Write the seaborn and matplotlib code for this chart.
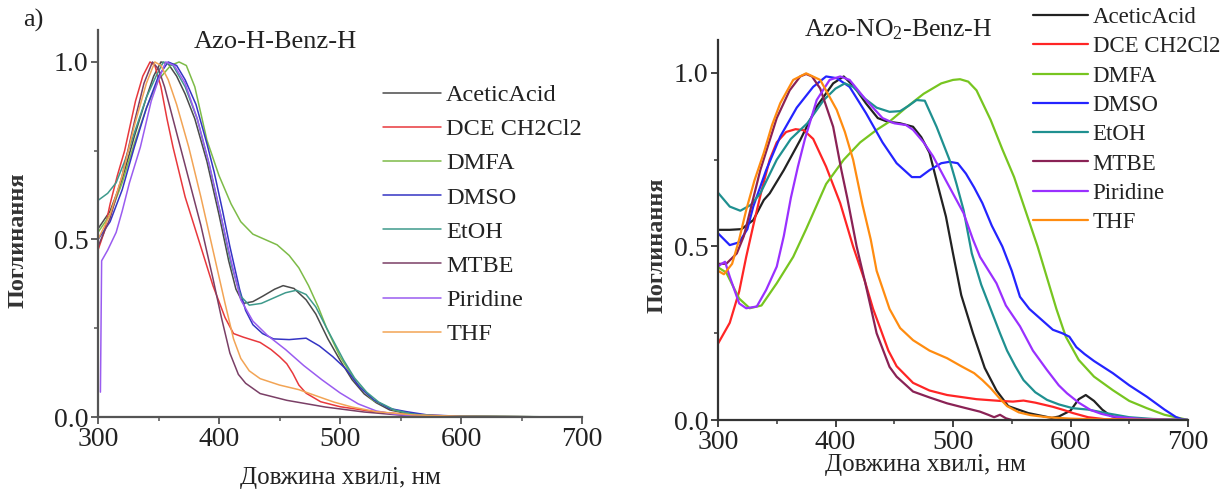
import numpy as np
import pandas as pd
import matplotlib
matplotlib.use("Agg")
import matplotlib.pyplot as plt
import seaborn as sns
from matplotlib.ticker import MultipleLocator

# ---------------- data ----------------
SOLVENTS = ["AceticAcid", "DCE CH2Cl2", "DMFA", "DMSO", "EtOH", "MTBE", "Piridine", "THF"]

# Left panel: Azo-H-Benz-H
L_ACETIC_X = [300, 310, 320, 330, 340, 346, 352, 358, 365, 372, 380, 390, 400, 408, 414, 420, 428, 436, 446, 453, 462, 472, 480, 490, 500, 510, 520, 530, 541, 555, 570, 600, 688]
L_ACETIC_Y = [0.53, 0.58, 0.67, 0.79, 0.90, 0.96, 1.0, 0.995, 0.96, 0.91, 0.84, 0.72, 0.57, 0.44, 0.36, 0.32, 0.325, 0.34, 0.36, 0.37, 0.362, 0.33, 0.29, 0.22, 0.16, 0.105, 0.065, 0.04, 0.02, 0.01, 0.004, 0.001, 0.0]
L_DCE_X = [300, 305, 310, 316, 322, 331, 337, 343, 347, 352, 357, 362, 372, 384, 395, 405, 412, 420, 434, 443, 450, 456, 461, 466, 472, 484, 500, 528, 560, 600, 688]
L_DCE_Y = [0.47, 0.52, 0.60, 0.68, 0.75, 0.89, 0.96, 1.0, 0.99, 0.93, 0.84, 0.76, 0.62, 0.49, 0.37, 0.28, 0.235, 0.225, 0.21, 0.19, 0.17, 0.15, 0.123, 0.09, 0.067, 0.043, 0.029, 0.015, 0.006, 0.002, 0.0]
L_DMFA_X = [300, 310, 320, 330, 340, 350, 360, 367, 373, 380, 390, 400, 410, 418, 428, 438, 448, 458, 466, 474, 482, 489, 500, 514, 527, 544, 560, 580, 688]
L_DMFA_Y = [0.52, 0.57, 0.66, 0.77, 0.87, 0.95, 0.99, 1.0, 0.99, 0.93, 0.78, 0.68, 0.60, 0.55, 0.515, 0.50, 0.485, 0.455, 0.42, 0.37, 0.31, 0.25, 0.17, 0.095, 0.048, 0.02, 0.008, 0.003, 0.0]
L_DMSO_X = [300, 310, 320, 330, 340, 350, 358, 365, 372, 381, 390, 396, 403, 409, 417, 422, 428, 436, 445, 458, 472, 483, 494, 505, 516, 528, 541, 555, 572, 600, 688]
L_DMSO_Y = [0.50, 0.55, 0.64, 0.76, 0.87, 0.96, 1.0, 0.99, 0.95, 0.88, 0.77, 0.69, 0.58, 0.48, 0.36, 0.30, 0.26, 0.235, 0.22, 0.218, 0.222, 0.20, 0.17, 0.135, 0.085, 0.048, 0.024, 0.015, 0.006, 0.002, 0.0]
L_ETOH_X = [300, 308, 315, 322, 330, 340, 348, 354, 362, 372, 382, 392, 402, 410, 418, 425, 435, 445, 455, 464, 472, 480, 489, 503, 512, 522, 532, 545, 560, 580, 688]
L_ETOH_Y = [0.61, 0.63, 0.66, 0.72, 0.80, 0.90, 0.96, 1.0, 0.99, 0.93, 0.84, 0.71, 0.56, 0.43, 0.34, 0.315, 0.32, 0.335, 0.35, 0.357, 0.345, 0.31, 0.25, 0.16, 0.11, 0.07, 0.042, 0.02, 0.008, 0.003, 0.0]
L_MTBE_X = [300, 310, 320, 330, 338, 345, 350, 355, 365, 375, 385, 395, 402, 409, 416, 422, 434, 456, 488, 520, 551, 600, 688]
L_MTBE_Y = [0.48, 0.56, 0.68, 0.83, 0.94, 1.0, 0.98, 0.93, 0.80, 0.67, 0.54, 0.39, 0.28, 0.18, 0.12, 0.095, 0.066, 0.047, 0.028, 0.014, 0.005, 0.001, 0.0]
L_PIRIDINE_X = [302, 303, 308, 315, 320, 326, 335, 344, 350, 356, 363, 372, 382, 392, 402, 410, 418, 428, 440, 455, 470, 485, 500, 515, 530, 545, 560, 600, 688]
L_PIRIDINE_Y = [0.07, 0.44, 0.47, 0.52, 0.58, 0.66, 0.76, 0.89, 0.95, 1.0, 0.99, 0.94, 0.84, 0.71, 0.56, 0.44, 0.33, 0.27, 0.23, 0.19, 0.145, 0.105, 0.068, 0.037, 0.017, 0.008, 0.003, 0.001, 0.0]
L_THF_X = [300, 310, 320, 330, 340, 347, 352, 358, 365, 375, 385, 395, 405, 412, 418, 425, 434, 450, 466, 480, 495, 510, 530, 560, 600, 688]
L_THF_Y = [0.50, 0.57, 0.68, 0.82, 0.94, 1.0, 0.99, 0.95, 0.88, 0.76, 0.62, 0.47, 0.32, 0.22, 0.165, 0.13, 0.108, 0.09, 0.077, 0.06, 0.042, 0.028, 0.015, 0.006, 0.002, 0.0]

# Right panel: Azo-NO2-Benz-H
R_ACETIC_X = [300, 310, 320, 330, 339, 344, 356, 370, 384, 398, 407, 416, 426, 436, 444, 455, 466, 473, 480, 486, 494, 500, 507, 517, 527, 537, 547, 564, 584, 590, 600, 607, 613, 620, 627, 634, 644, 660, 700]
R_ACETIC_Y = [0.548, 0.548, 0.550, 0.576, 0.634, 0.653, 0.72, 0.807, 0.903, 0.97, 0.99, 0.96, 0.912, 0.87, 0.86, 0.855, 0.845, 0.815, 0.77, 0.69, 0.586, 0.48, 0.36, 0.25, 0.15, 0.085, 0.04, 0.02, 0.006, 0.01, 0.027, 0.06, 0.072, 0.055, 0.03, 0.012, 0.003, 0.0, 0.0]
R_DCE_X = [300, 310, 318, 324, 330, 337, 344, 350, 358, 366, 373, 381, 392, 404, 415, 425, 432, 438, 445, 452, 466, 480, 495, 520, 540, 551, 560, 570, 585, 595, 602, 615, 630, 700]
R_DCE_Y = [0.22, 0.28, 0.37, 0.47, 0.56, 0.66, 0.75, 0.80, 0.83, 0.838, 0.835, 0.81, 0.73, 0.625, 0.50, 0.40, 0.32, 0.265, 0.20, 0.155, 0.107, 0.085, 0.072, 0.06, 0.055, 0.053, 0.056, 0.05, 0.038, 0.028, 0.02, 0.008, 0.002, 0.0]
R_DMFA_X = [300, 307, 318, 327, 337, 350, 364, 375, 392, 407, 421, 435, 446, 460, 475, 490, 500, 506, 513, 520, 532, 542, 552, 562, 572, 580, 588, 596, 607, 620, 636, 650, 665, 680, 695, 700]
R_DMFA_Y = [0.44, 0.425, 0.35, 0.322, 0.33, 0.394, 0.47, 0.55, 0.68, 0.75, 0.80, 0.836, 0.86, 0.90, 0.94, 0.97, 0.98, 0.982, 0.975, 0.95, 0.865, 0.78, 0.70, 0.60, 0.50, 0.41, 0.32, 0.24, 0.173, 0.125, 0.086, 0.055, 0.034, 0.015, 0.004, 0.0]
R_DMSO_X = [300, 310, 318, 325, 330, 341, 353, 367, 381, 392, 401, 412, 426, 440, 452, 465, 472, 480, 490, 497, 504, 511, 518, 525, 533, 542, 550, 557, 565, 575, 585, 593, 599, 605, 612, 620, 636, 650, 665, 680, 690, 695, 700]
R_DMSO_Y = [0.538, 0.504, 0.512, 0.55, 0.615, 0.72, 0.817, 0.90, 0.96, 0.99, 0.985, 0.96, 0.884, 0.80, 0.74, 0.70, 0.70, 0.72, 0.74, 0.744, 0.74, 0.71, 0.67, 0.625, 0.56, 0.50, 0.43, 0.355, 0.32, 0.29, 0.26, 0.25, 0.24, 0.21, 0.19, 0.17, 0.135, 0.10, 0.067, 0.03, 0.008, 0.002, 0.0]
R_ETOH_X = [300, 310, 319, 328, 336, 350, 362, 376, 390, 400, 408, 415, 425, 435, 446, 455, 462, 469, 476, 486, 497, 503, 509, 516, 524, 532, 540, 546, 553, 560, 570, 580, 590, 602, 615, 630, 650, 670, 700]
R_ETOH_Y = [0.655, 0.615, 0.603, 0.62, 0.653, 0.75, 0.81, 0.855, 0.922, 0.955, 0.97, 0.96, 0.926, 0.90, 0.888, 0.89, 0.905, 0.922, 0.92, 0.845, 0.75, 0.68, 0.605, 0.48, 0.39, 0.32, 0.25, 0.20, 0.155, 0.115, 0.08, 0.058, 0.045, 0.034, 0.03, 0.02, 0.008, 0.003, 0.0]
R_MTBE_X = [300, 307, 316, 322, 336, 350, 361, 370, 375, 380, 387, 398, 405, 410, 418, 425, 435, 446, 452, 466, 480, 495, 510, 523, 530, 535, 540, 545, 550]
R_MTBE_Y = [0.45, 0.45, 0.48, 0.53, 0.72, 0.87, 0.95, 0.99, 0.997, 0.99, 0.955, 0.845, 0.72, 0.64, 0.50, 0.40, 0.25, 0.153, 0.125, 0.082, 0.065, 0.048, 0.035, 0.024, 0.015, 0.008, 0.015, 0.005, 0.0]
R_PIRIDINE_X = [300, 303, 306, 310, 318, 324, 333, 341, 350, 356, 362, 368, 374, 384, 395, 404, 412, 426, 440, 450, 460, 466, 475, 483, 494, 509, 517, 523, 537, 545, 557, 568, 580, 590, 597, 607, 617, 626, 636, 660, 700]
R_PIRIDINE_Y = [0.442, 0.45, 0.456, 0.413, 0.336, 0.322, 0.327, 0.375, 0.442, 0.53, 0.64, 0.73, 0.81, 0.922, 0.98, 0.99, 0.98, 0.922, 0.87, 0.855, 0.85, 0.836, 0.80, 0.76, 0.69, 0.596, 0.52, 0.47, 0.394, 0.33, 0.27, 0.20, 0.144, 0.10, 0.077, 0.05, 0.029, 0.018, 0.01, 0.003, 0.0]
R_THF_X = [300, 305, 312, 318, 324, 331, 339, 346, 353, 364, 375, 387, 401, 408, 415, 423, 430, 435, 446, 455, 466, 480, 495, 507, 518, 525, 532, 539, 546, 556, 566, 580, 600, 620, 700]
R_THF_Y = [0.43, 0.42, 0.45, 0.52, 0.605, 0.69, 0.77, 0.85, 0.913, 0.98, 0.999, 0.98, 0.894, 0.83, 0.75, 0.62, 0.52, 0.43, 0.32, 0.265, 0.23, 0.20, 0.178, 0.155, 0.135, 0.115, 0.092, 0.065, 0.04, 0.022, 0.014, 0.008, 0.004, 0.002, 0.0]

LEFT_SERIES = [(L_ACETIC_X, L_ACETIC_Y), (L_DCE_X, L_DCE_Y), (L_DMFA_X, L_DMFA_Y), (L_DMSO_X, L_DMSO_Y),
               (L_ETOH_X, L_ETOH_Y), (L_MTBE_X, L_MTBE_Y), (L_PIRIDINE_X, L_PIRIDINE_Y), (L_THF_X, L_THF_Y)]
RIGHT_SERIES = [(R_ACETIC_X, R_ACETIC_Y), (R_DCE_X, R_DCE_Y), (R_DMFA_X, R_DMFA_Y), (R_DMSO_X, R_DMSO_Y),
                (R_ETOH_X, R_ETOH_Y), (R_MTBE_X, R_MTBE_Y), (R_PIRIDINE_X, R_PIRIDINE_Y), (R_THF_X, R_THF_Y)]

LEFT_COLORS = ["#4a4a4a", "#e8383c", "#7dbb48", "#3434c4", "#3f9a8c", "#7a3f66", "#9a5cf0", "#f2a455"]
RIGHT_COLORS = ["#222222", "#ff2525", "#77c520", "#2424ff", "#1f9090", "#8a2255", "#9a30ff", "#ff8c10"]

LEFT_TITLE = "Azo-H-Benz-H"
RIGHT_TITLE = r"Azo-NO$_{\rm 2}$-Benz-H"
XLABEL = "Довжина хвилі, нм"
YLABEL = "Поглинання"

# ---------------- style ----------------
sns.set_style("ticks")
plt.rcParams["font.family"] = ["Liberation Serif", "DejaVu Serif"]
plt.rcParams["mathtext.fontset"] = "custom"
plt.rcParams["mathtext.rm"] = "Liberation Serif"
plt.rcParams["mathtext.it"] = "Liberation Serif:italic"
plt.rcParams["mathtext.bf"] = "Liberation Serif:bold"

W, H = 1230, 490
fig = plt.figure(figsize=(12.3, 4.9), dpi=100)


def frac_rect(x0, x1, ytop, ybot):
    return [x0 / W, 1 - ybot / H, (x1 - x0) / W, (ybot - ytop) / H]


def build_df(series):
    rows = []
    for name, (xs, ys) in zip(SOLVENTS, series):
        for x, y in zip(xs, ys):
            rows.append((name, x, y))
    return pd.DataFrame(rows, columns=["solvent", "wl", "abs"])


def draw_panel(ax, series, colors, lw, ymax, title, title_xy, title_size,
               leg_anchor, leg_spacing, leg_size, spine_color):
    df = build_df(series)
    sns.lineplot(data=df, x="wl", y="abs", hue="solvent", hue_order=SOLVENTS,
                 palette=colors, estimator=None, sort=False, lw=lw, ax=ax, legend=False)
    ax.set_xlim(300, 700)
    ax.set_ylim(0, ymax)
    ax.xaxis.set_major_locator(MultipleLocator(100))
    ax.xaxis.set_minor_locator(MultipleLocator(50))
    ax.set_yticks([0.0, 0.5, 1.0])
    ax.set_yticklabels(["0.0", "0.5", "1.0"])
    ax.yaxis.set_minor_locator(MultipleLocator(0.25))
    ax.tick_params(which="major", direction="out", length=5, width=1.3, labelsize=20,
                   colors=spine_color, labelcolor="#222222", pad=2)
    ax.tick_params(which="minor", direction="out", length=3, width=1.1, colors=spine_color)
    for s in ["top", "right"]:
        ax.spines[s].set_visible(False)
    for s in ["left", "bottom"]:
        ax.spines[s].set_linewidth(1.6)
        ax.spines[s].set_color(spine_color)
    ax.set_xlabel("")
    ax.set_ylabel("")
    fig.text(title_xy[0] / W, 1 - title_xy[1] / H, title, ha="center", va="center",
             fontsize=title_size, color="#222222")
    handles = ax.get_lines()[:len(SOLVENTS)]
    leg = ax.legend(handles, SOLVENTS, loc="upper left",
                    bbox_to_anchor=(leg_anchor[0] / W, 1 - leg_anchor[1] / H),
                    bbox_transform=fig.transFigure, frameon=False, fontsize=leg_size,
                    handlelength=2.4, handletextpad=0.2, labelspacing=leg_spacing,
                    borderpad=0, borderaxespad=0)
    for t in leg.get_texts():
        t.set_color("#222222")
    return ax


axL = fig.add_axes(frac_rect(98, 582, 30, 417))
draw_panel(axL, LEFT_SERIES, LEFT_COLORS, 1.1, 1.09, LEFT_TITLE, (275, 42), 19,
           (383, 84), 0.5, 17.5, "#555555")

axR = fig.add_axes(frac_rect(718, 1188, 40, 420))
draw_panel(axR, RIGHT_SERIES, RIGHT_COLORS, 1.6, 1.095, RIGHT_TITLE, (898, 30), 18.5,
           (1033, 7), 0.36, 16.5, "#333333")

# axis labels
fig.text(340 / W, 1 - 478 / H, XLABEL, ha="center", va="center", fontsize=18, color="#222222")
fig.text(925 / W, 1 - 465 / H, XLABEL, ha="center", va="center", fontsize=18, color="#222222")
fig.text(18 / W, 1 - 240 / H, YLABEL, ha="center", va="center", rotation=90, fontsize=17.5,
         fontweight="bold", color="#333333")
fig.text(657 / W, 1 - 245 / H, YLABEL, ha="center", va="center", rotation=90, fontsize=17.5,
         fontweight="bold", color="#333333")
fig.text(33 / W, 1 - 20 / H, "a)", ha="center", va="center", fontsize=19, color="#222222")

fig.savefig("out.png", dpi=100)
